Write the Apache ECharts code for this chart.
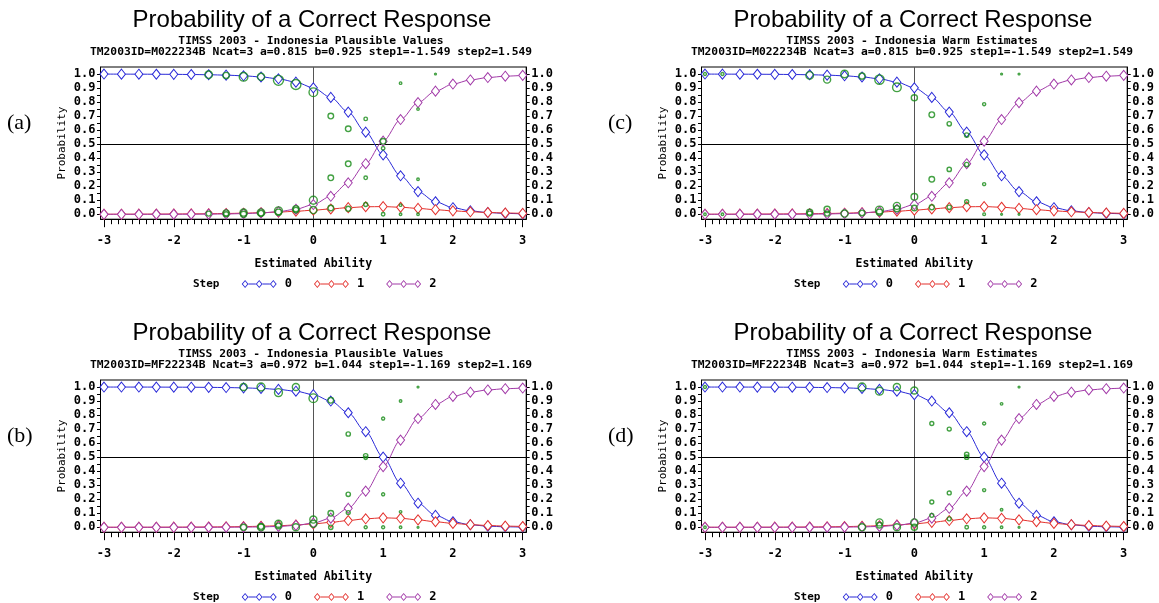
<!DOCTYPE html>
<html><head><meta charset="utf-8">
<script src="https://cdn.jsdelivr.net/npm/echarts@6/dist/echarts.min.js"></script>
<style>html,body{margin:0;padding:0;background:#fff}#c{width:1159px;height:603px}</style>
</head><body><div id="c"></div>
<script>
// Ability grid (theta)
const theta = [-3,-2.75,-2.5,-2.25,-2,-1.75,-1.5,-1.25,-1,-0.75,-0.5,-0.25,0,0.25,0.5,0.75,1,1.25,1.5,1.75,2,2.25,2.5,2.75,3];

// Model curves, item M022234B (panels a, c)
const itemM_step0 = [0.9995,0.9992,0.9989,0.9984,0.9977,0.9965,0.9948,0.9919,0.9872,0.9793,0.9657,0.9421,0.9013,0.8333,0.7284,0.5856,0.4236,0.2744,0.1618,0.0893,0.0472,0.0244,0.0124,0.0063,0.0032];
const itemM_step1 = [0.0005,0.0007,0.0010,0.0014,0.0020,0.0029,0.0040,0.0057,0.0080,0.0112,0.0157,0.0216,0.0292,0.0383,0.0473,0.0537,0.0549,0.0503,0.0420,0.0327,0.0245,0.0179,0.0129,0.0092,0.0065];
const itemM_step2 = [0.0000,0.0000,0.0001,0.0002,0.0003,0.0006,0.0012,0.0024,0.0048,0.0094,0.0186,0.0363,0.0695,0.1284,0.2243,0.3606,0.5215,0.6753,0.7962,0.8780,0.9283,0.9578,0.9747,0.9846,0.9903];

// Model curves, item MF22234B (panels b, d)
const itemMF_step0 = [0.9998,0.9997,0.9996,0.9994,0.9990,0.9985,0.9976,0.9962,0.9939,0.9900,0.9829,0.9700,0.9456,0.8997,0.8165,0.6814,0.5002,0.3145,0.1718,0.0849,0.0396,0.0179,0.0080,0.0035,0.0015];
const itemMF_step1 = [0.0002,0.0003,0.0004,0.0006,0.0009,0.0014,0.0022,0.0033,0.0049,0.0074,0.0111,0.0166,0.0244,0.0351,0.0482,0.0607,0.0674,0.0640,0.0529,0.0395,0.0278,0.0190,0.0128,0.0085,0.0057];
const itemMF_step2 = [0.0000,0.0000,0.0000,0.0000,0.0000,0.0001,0.0002,0.0005,0.0012,0.0026,0.0060,0.0135,0.0300,0.0652,0.1353,0.2579,0.4325,0.6214,0.7753,0.8756,0.9326,0.9631,0.9792,0.9880,0.9928];

// Observed proportions [theta, proportion, relative count]
const observedA = [
 [-1.5,0.995,9],[-1.5,0.005,4],
 [-1.25,0.99,6],[-1.25,0.01,6],[-1.25,0.0,4],
 [-1,0.98,12],[-1,0.012,8],[-1,0.0,6],
 [-0.75,0.98,8],[-0.75,0.012,9],[-0.75,0.008,5],
 [-0.5,0.955,16],[-0.5,0.025,10],[-0.5,0.015,6],
 [-0.25,0.925,16],[-0.25,0.04,6],[-0.25,0.03,5],
 [0,0.87,12],[0,0.10,10],[0,0.03,8],
 [0.25,0.70,5],[0.25,0.26,5],[0.25,0.045,5],
 [0.5,0.61,5],[0.5,0.36,5],[0.5,0.04,4],
 [0.75,0.68,2],[0.75,0.26,2],[0.75,0.07,2.5],
 [1,0.52,5],[1,0.47,2],[1,0.0,2],
 [1.25,0.935,1],[1.25,0.065,1],[1.25,0.0,1],
 [1.5,0.75,1],[1.5,0.25,1],[1.5,0.0,1],
 [1.75,1.0,0.3]
];
const observedB = [
 [-1,1.0,8],[-1,0.0,6],
 [-0.75,1.0,10],[-0.75,0.0,8],[-0.75,0.005,5],
 [-0.5,0.96,10],[-0.5,0.025,8],[-0.5,0.01,5],
 [-0.25,1.0,8],[-0.25,0.0,8],
 [0,0.92,12],[0,0.055,8],[0,0.025,8],
 [0.25,0.905,5],[0.25,0.1,5],[0.25,0.0,3],
 [0.5,0.665,3],[0.5,0.235,3],[0.5,0.105,2.5],
 [0.75,0.51,3],[0.75,0.495,2],[0.75,0.0,1.5],
 [1,0.775,1.5],[1,0.235,1.5],[1,0.0,1.5],
 [1.25,0.9,1],[1.25,0.11,1],[1.25,0.0,1],
 [1.5,1.0,0.4],[1.5,0.0,0.5]
];
const observedC = [
 [-3,1.0,1.5],[-3,0.0,1],
 [-2.75,1.0,1.5],[-2.75,0.0,1],
 [-1.5,0.99,9],[-1.5,0.015,6],[-1.5,0.005,4],
 [-1.25,0.96,8],[-1.25,0.035,6],[-1.25,0.005,4],
 [-1,1.0,9],[-1,0.005,8],
 [-0.75,0.985,6],[-0.75,0.01,5],
 [-0.5,0.96,14],[-0.5,0.03,10],[-0.5,0.015,6],
 [-0.25,0.905,12],[-0.25,0.06,8],[-0.25,0.04,6],
 [0,0.83,6],[0,0.125,7],[0,0.045,5],
 [0.25,0.71,5],[0.25,0.25,5],[0.25,0.05,4],
 [0.5,0.645,3],[0.5,0.32,3],[0.5,0.05,3],
 [0.75,0.565,3],[0.75,0.355,3],[0.75,0.09,2.5],
 [1,0.785,1.5],[1,0.215,1.5],[1,0.0,1.2],
 [1.25,1.0,0.4],[1.25,0.0,0.5],
 [1.5,1.0,0.4],[1.5,0.0,0.5]
];
const observedD = [
 [-3,1.0,1.5],[-3,0.0,1],
 [-0.75,1.0,10],[-0.75,0.0,8],
 [-0.5,0.97,10],[-0.5,0.035,8],[-0.5,0.015,5],
 [-0.25,1.0,8],[-0.25,0.0,8],
 [0,0.975,8],[0,0.035,8],[0,0.0,6],
 [0.25,0.74,2.5],[0.25,0.18,2.5],[0.25,0.085,2.5],
 [0.5,0.70,2.5],[0.5,0.245,2.5],[0.5,0.06,2.5],
 [0.75,0.52,3],[0.75,0.50,3],[0.75,0.0,2],
 [1,0.74,1.5],[1,0.265,1.5],[1,0.0,1.5],
 [1.25,0.88,1],[1.25,0.125,1],[1.25,0.0,1],
 [1.5,1.0,0.4],[1.5,0.0,0.5]
];

const xTickValues = [-3,-2,-1,0,1,2,3];
const yTickValues = [0,0.1,0.2,0.3,0.4,0.5,0.6,0.7,0.8,0.9,1.0];
const stepNames = ['0','1','2'];
const mainTitle = 'Probability of a Correct Response';
const xName = 'Estimated Ability';
const yName = 'Probability';

const panels = [
 {tag:'(a)', sub:'TIMSS 2003 - Indonesia Plausible Values', info:'TM2003ID=M022234B Ncat=3 a=0.815 b=0.925 step1=-1.549 step2=1.549', model:[itemM_step0,itemM_step1,itemM_step2], obs:observedA, ox:0, oy:0},
 {tag:'(c)', sub:'TIMSS 2003 - Indonesia Warm Estimates', info:'TM2003ID=M022234B Ncat=3 a=0.815 b=0.925 step1=-1.549 step2=1.549', model:[itemM_step0,itemM_step1,itemM_step2], obs:observedC, ox:601, oy:0},
 {tag:'(b)', sub:'TIMSS 2003 - Indonesia Plausible Values', info:'TM2003ID=MF22234B Ncat=3 a=0.972 b=1.044 step1=-1.169 step2=1.169', model:[itemMF_step0,itemMF_step1,itemMF_step2], obs:observedB, ox:0, oy:313},
 {tag:'(d)', sub:'TIMSS 2003 - Indonesia Warm Estimates', info:'TM2003ID=MF22234B Ncat=3 a=0.972 b=1.044 step1=-1.169 step2=1.169', model:[itemMF_step0,itemMF_step1,itemMF_step2], obs:observedD, ox:601, oy:313}
];

const colors = ['#2a2ad8','#e4322e','#a23aa8'];
const green = '#148a14';
const MONO = 'DejaVu Sans Mono';
const xMinor = []; for (let k = -30; k <= 30; k++) xMinor.push(k / 10);
const yMinor = []; for (let k = 0; k <= 20; k++) yMinor.push(k / 20);
const legendIcon = 'path://M0 4L3.5 0L7 4L3.5 8ZM1.2 4L3.5 6.8L5.8 4L3.5 1.2ZM7 3.6L14.5 3.6L14.5 4.4L7 4.4ZM14.5 4L18 0L21.5 4L18 8ZM15.7 4L18 6.8L20.3 4L18 1.2ZM21.5 3.6L29 3.6L29 4.4L21.5 4.4ZM29 4L32.5 0L36 4L32.5 8ZM30.2 4L32.5 6.8L34.8 4L32.5 1.2Z';

const option = {
  backgroundColor:'#fff', animation:false,
  title:[], grid:[], xAxis:[], yAxis:[], series:[], legend:[]
};

panels.forEach((p, i) => {
  const ox = p.ox, oy = p.oy;
  const t = (text, x, y, style, align) => option.title.push({
    text, left:x, top:y, padding:0, textAlign: align || 'center', textVerticalAlign:'middle',
    textStyle: Object.assign({color:'#000'}, style)
  });
  t(mainTitle, 312+ox, 20.5+oy, {fontFamily:'Liberation Sans', fontSize:24, fontWeight:'normal'});
  t(p.sub, 311+ox, 41+oy, {fontFamily:MONO, fontSize:11.3, fontWeight:'bold'});
  t(p.info, 311+ox, 52.5+oy, {fontFamily:MONO, fontSize:11.3, fontWeight:'bold'});
  t(p.tag, 7+ox, 123.5+oy, {fontFamily:'Liberation Serif', fontSize:22, fontWeight:'normal'}, 'left');
  t('Step', 193+ox, 284.5+oy, {fontFamily:MONO, fontSize:11, fontWeight:'bold'}, 'left');

  option.grid.push({left:100.5+ox, top:67+oy, width:425.7, height:152.2, show:true, borderColor:'#000', borderWidth:1, backgroundColor:'transparent'});
  const axisLine = {show:true, onZero:false, lineStyle:{color:'#000', width:1}};
  const lbl = {fontFamily:MONO, fontWeight:'bold', fontSize:12, color:'#000'};
  option.xAxis.push({
    gridIndex:i, type:'value', min:-3.05, max:3.05, position:'bottom',
    axisLine, splitLine:{show:false},
    axisTick:{show:true, customValues:xTickValues, length:8, lineStyle:{color:'#000'}},
    axisLabel:Object.assign({customValues:xTickValues, margin:16, formatter:v=>String(v)}, lbl),
    name:xName, nameLocation:'middle', nameGap:38.5,
    nameTextStyle:{fontFamily:MONO, fontWeight:'bold', fontSize:11.5, color:'#000'}
  });
  option.xAxis.push({
    gridIndex:i, type:'value', min:-3.05, max:3.05, position:'bottom',
    axisLine:{show:false, onZero:false}, splitLine:{show:false},
    axisTick:{show:true, customValues:xMinor, length:5, lineStyle:{color:'#000'}},
    axisLabel:{show:false}
  });
  const yBase = {
    gridIndex:i, type:'value', min:-0.035, max:1.05,
    axisLine, splitLine:{show:false},
    axisTick:{show:true, customValues:yMinor, length:3.5, lineStyle:{color:'#000'}},
    axisLabel:Object.assign({customValues:yTickValues, margin:5, formatter:v=>v.toFixed(1)}, lbl)
  };
  option.yAxis.push(Object.assign({}, yBase, {position:'left', name:yName, nameLocation:'middle', nameGap:33, nameRotate:90,
    nameTextStyle:{fontFamily:MONO, fontSize:11, color:'#000'}}));
  option.yAxis.push(Object.assign({}, yBase, {position:'right'}));

  p.model.forEach((vals, s) => {
    const ser = {
      type:'line', name:stepNames[s], xAxisIndex:2*i, yAxisIndex:2*i,
      data: theta.map((x, k) => [x, vals[k]]),
      smooth:0.3, smoothMonotone:'x',
      symbol:'diamond', symbolSize:[8,10], showAllSymbol:true,
      lineStyle:{color:colors[s], width:1},
      itemStyle:{color:'#fff', borderColor:colors[s], borderWidth:1},
      z: 3+s
    };
    if (s === 0) {
      ser.markLine = {silent:true, symbol:['none','none'], label:{show:false}, z:1,
        data:[{xAxis:0, lineStyle:{color:'#555', width:1, type:'solid'}},
              {yAxis:0.5, lineStyle:{color:'#000', width:1, type:'solid'}}]};
    }
    option.series.push(ser);
  });
  option.series.push({
    type:'scatter', name:'observed', xAxisIndex:2*i, yAxisIndex:2*i,
    data:p.obs, symbol:'circle',
    symbolSize: d => Math.max(1.8, 2.5*Math.sqrt(d[2])),
    itemStyle:{color:'rgba(0,0,0,0)', borderColor:green, borderWidth:1.4},
    z:8
  });
  option.legend.push({
    left:241.7+ox, top:278+oy, padding:0, orient:'horizontal', selectedMode:false,
    data:stepNames.map((n, s) => ({name:n, icon:legendIcon, itemStyle:{color:colors[s], borderWidth:0}})),
    itemWidth:35, itemHeight:8, itemGap:22,
    textStyle:{fontFamily:MONO, fontWeight:'bold', fontSize:12, color:'#000', padding:[0,0,0,3]}
  });
});

const chart = echarts.init(document.getElementById('c'), null, {renderer:'canvas'});
chart.setOption(option);
</script>
</body></html>
